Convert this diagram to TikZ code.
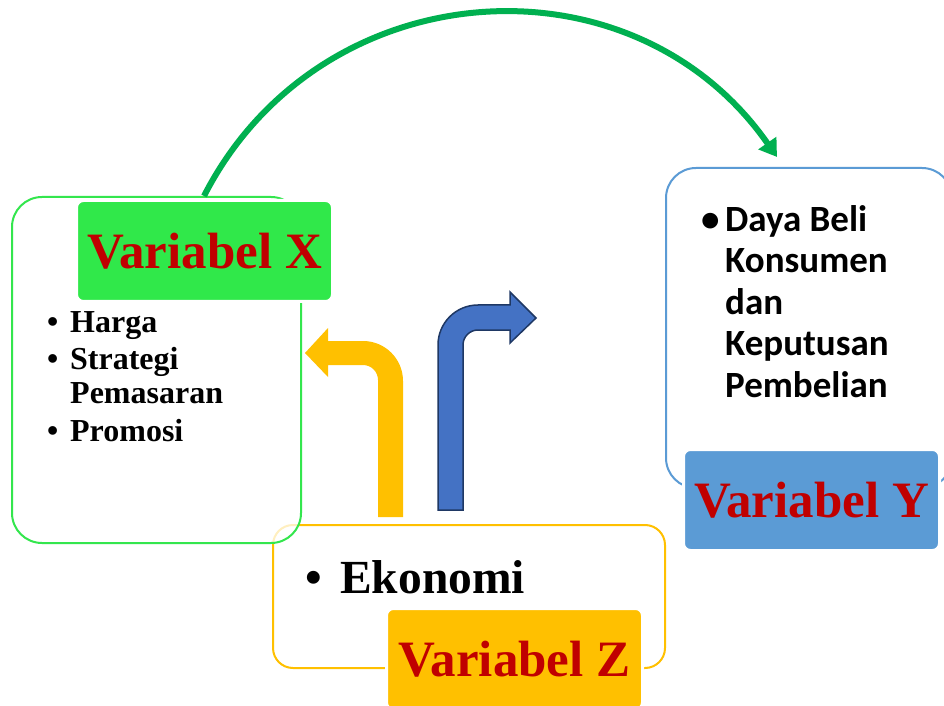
\documentclass[tikz,border=0pt]{standalone}
\usepackage{fontspec}
\setmainfont{Liberation Serif}
\newfontfamily\calibrifont{Carlito}
\usetikzlibrary{arrows.meta}
\definecolor{gline}{RGB}{51,230,77}
\definecolor{gfill}{RGB}{48,232,74}
\definecolor{bline}{RGB}{91,155,213}
\definecolor{yel}{RGB}{255,192,0}
\definecolor{vred}{RGB}{192,0,0}
\definecolor{arcgreen}{RGB}{0,176,80}
\definecolor{barrow}{RGB}{68,114,196}
\definecolor{bborder}{RGB}{31,56,100}
\begin{document}
\begin{tikzpicture}[x=1pt,y=1pt,
  framebox/.style={line width=2pt, inner sep=0pt, rounded corners=30pt},
  varlabel/.style={rounded corners=7pt, draw=white, line width=3pt, inner sep=0pt,
    minimum width=256pt, minimum height=101pt, text=vred,
    font=\fontsize{51}{56}\selectfont\bfseries},
  xitem/.style={anchor=base west, inner sep=0pt, font=\fontsize{32}{36}\selectfont\bfseries},
  yitem/.style={anchor=base west, inner sep=0pt, font=\calibrifont\fontsize{37}{41}\selectfont\bfseries},
  zitem/.style={anchor=base west, inner sep=0pt, font=\fontsize{47.5}{52}\selectfont\bfseries},
  blockarrow/.style={line join=miter}]
\useasboundingbox (0,0) rectangle (944,705);
\fill[white] (0,0) rectangle (944,705);

% Variabel Z frame
\node[framebox, rounded corners=20pt, draw=yel, fill=white,
  minimum width=392pt, minimum height=143pt] (zbox) at (469,108.5) {};
% Variabel X frame
\node[framebox, draw=gline, fill=white, fill opacity=0.75,
  minimum width=289pt, minimum height=346pt] (xbox) at (156.5,335) {};
\node[varlabel, fill=gfill] (xlabel) at (204.5,454) {Variabel X};
\node[xitem] (x1) at (47,373) {\makebox[23pt][l]{•}Harga};
\node[xitem] (x2) at (47,336) {\makebox[23pt][l]{•}Strategi};
\node[xitem] (x3) at (70,302) {Pemasaran};
\node[xitem] (x4) at (47,264) {\makebox[23pt][l]{•}Promosi};

% block arrows
\fill[yel, blockarrow] (378,188) -- (403,188) -- (403,324)
  arc[start angle=0, end angle=90, radius=40] -- (328,364) -- (328,377)
  -- (305,352) -- (328,328) -- (328,340) -- (363,340)
  arc[start angle=90, end angle=0, radius=15] -- cycle;
\filldraw[fill=barrow, draw=bborder, line width=1.5pt, blockarrow]
  (438,195) -- (438,360) arc[start angle=180, end angle=90, radius=40]
  -- (510,400) -- (510,413) -- (536,387) -- (510,362) -- (510,375) -- (478,375)
  arc[start angle=90, end angle=180, radius=15] -- (463,195) -- cycle;

% Variabel Y frame
\node[framebox, draw=bline, fill=white,
  minimum width=286pt, minimum height=320pt] (ybox) at (809,377) {};
\node[yitem] (y1) at (701,473) {\makebox[24pt][l]{•}Daya Beli};
\node[yitem] (y2) at (725,432) {Konsumen};
\node[yitem] (y3) at (725,391) {dan};
\node[yitem] (y4) at (725,350) {Keputusan};
\node[yitem] (y5) at (725,308) {Pembelian};
\node[varlabel, fill=bline] (ylabel) at (811.5,205) {Variabel Y};

% Variabel Z content
\node[zitem] (z1) at (305,112) {\makebox[35pt][l]{•}Ekonomi};
\node[varlabel, fill=yel] (zlabel) at (514.5,46) {Variabel Z};

% green arc connector
\coordinate (arcstart) at ([xshift=193pt]xbox.north west);
\coordinate (arcend) at ([xshift=112pt, yshift=10pt]ybox.north west);
\draw[arcgreen, line width=6pt, -{Triangle[length=17pt, width=21pt]}]
  (arcstart) to[bend left=59, looseness=1.13] (arcend);
\end{tikzpicture}
\end{document}
